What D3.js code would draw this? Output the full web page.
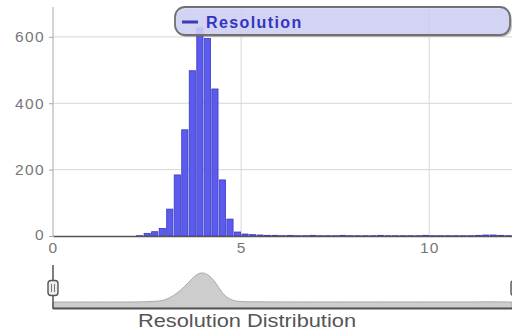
<!DOCTYPE html>
<html>
<head>
<meta charset="utf-8">
<script src="https://cdn.jsdelivr.net/npm/d3@7"></script>
<style>
  html, body { margin: 0; padding: 0; background: #fff; }
  svg { display: block; font-family: "Liberation Sans", Arial, sans-serif; }
</style>
</head>
<body>
<svg id="chart" width="512" height="335"></svg>
<script>
// Histogram bins (start of each 0.2-wide bin) and their counts
const binStarts = [
  0.0, 0.2, 0.4, 0.6, 0.8, 1.0, 1.2, 1.4, 1.6, 1.8,
  2.0, 2.2, 2.4, 2.6, 2.8, 3.0, 3.2, 3.4, 3.6, 3.8,
  4.0, 4.2, 4.4, 4.6, 4.8, 5.0, 5.2, 5.4, 5.6, 5.8,
  6.0, 6.2, 6.4, 6.6, 6.8, 7.0, 7.2, 7.4, 7.6, 7.8,
  8.0, 8.2, 8.4, 8.6, 8.8, 9.0, 9.2, 9.4, 9.6, 9.8,
  10.0, 10.2, 10.4, 10.6, 10.8, 11.0, 11.2, 11.4, 11.6, 11.8,
  12.0
];
const counts = [
  0, 0, 0, 0, 0, 0, 0, 0, 0, 0,
  0, 1, 8, 13, 23, 81, 184, 320, 498, 627,
  595, 443, 169, 51, 12, 6, 4, 3, 2, 2,
  1, 2, 1, 1, 2, 1, 1, 1, 2, 1,
  1, 1, 1, 2, 1, 1, 1, 1, 1, 2,
  1, 1, 1, 1, 1, 1, 2, 3, 3, 2,
  1
];
const binWidth = 0.2;
const yTicks = [0, 200, 400, 600];
const xTicks = [0, 5, 10];
const seriesName = "Resolution";
const title = "Resolution Distribution";

const data = binStarts.map((s, i) => ({ x0: s, x1: s + binWidth, n: counts[i] }));

const svg = d3.select("#chart");

// Main plot scales
const x = d3.scaleLinear().domain([0, 12.2]).range([53, 512]);
const y = d3.scaleLinear().domain([0, 690]).range([236, 7]);

// Grid lines
const grid = svg.append("g");
grid.selectAll("line.h").data(yTicks.filter(d => d > 0)).join("line")
  .attr("x1", x(0)).attr("x2", 512)
  .attr("y1", d => y(d)).attr("y2", d => y(d))
  .attr("stroke", "#d6d6d6").attr("stroke-width", 1);
grid.selectAll("line.v").data(xTicks.filter(d => d > 0)).join("line")
  .attr("x1", d => x(d)).attr("x2", d => x(d))
  .attr("y1", y(690)).attr("y2", y(0))
  .attr("stroke", "#d6d6d6").attr("stroke-width", 1);

// Bars
svg.append("g").selectAll("rect").data(data.filter(d => d.n > 0)).join("rect")
  .attr("x", d => x(d.x0) + 0.8)
  .attr("width", d => x(d.x1) - x(d.x0) - 1.3)
  .attr("y", d => y(d.n))
  .attr("height", d => y(0) - y(d.n))
  .attr("fill", "#5b5bee")
  .attr("stroke", "#3a3ac4")
  .attr("stroke-width", 0.8);

// Y axis
const yAxis = d3.axisLeft(y).tickValues(yTicks).tickSize(4).tickPadding(4).tickFormat(d3.format("d"));
const gy = svg.append("g").attr("transform", `translate(${x(0)},0)`).call(yAxis);
gy.select(".domain").attr("stroke", "#a8a8a8").attr("d", `M0,${y(690)}V${y(0)}`);
gy.selectAll(".tick line").attr("stroke", "#a8a8a8");
gy.selectAll(".tick text").attr("fill", "#777").attr("font-size", 15.5)
  .attr("letter-spacing", 1.4)
  .attr("font-family", "Liberation Sans, Arial, sans-serif");
gy.selectAll(".tick").filter(d => d === 0).select("text").attr("dy", "0.2em");

// X axis
const xAxis = d3.axisBottom(x).tickValues(xTicks).tickSize(0).tickPadding(6);
const gx = svg.append("g").attr("transform", `translate(0,${y(0)})`).call(xAxis);
gx.select(".domain").attr("stroke", "#555").attr("stroke-width", 1.3);
gx.selectAll(".tick text").attr("fill", "#777").attr("font-size", 15.5)
  .attr("letter-spacing", 1.2)
  .attr("font-family", "Liberation Sans, Arial, sans-serif");

// Legend
const legend = svg.append("g");
legend.append("rect")
  .attr("x", 176).attr("y", 9).attr("width", 336).attr("height", 28).attr("rx", 10)
  .attr("fill", "#555").attr("opacity", 0.35);
legend.append("rect")
  .attr("x", 175).attr("y", 7).attr("width", 335).attr("height", 28).attr("rx", 10)
  .attr("fill", "#d6d6fb").attr("fill-opacity", 0.85)
  .attr("stroke", "#707070").attr("stroke-width", 1.8);
legend.append("line")
  .attr("x1", 182).attr("x2", 198).attr("y1", 22).attr("y2", 22)
  .attr("stroke", "#3b3bb5").attr("stroke-width", 3);
legend.append("text")
  .attr("x", 206).attr("y", 27.5)
  .attr("font-size", 16).attr("font-weight", "bold").attr("fill", "#3434c0")
  .attr("letter-spacing", 1.4)
  .text(seriesName);

// Navigator
const nav = svg.append("g");
const ny = d3.scaleLinear().domain([0, 627]).range([302, 272]);
const centers = data.map(d => ({ x: (d.x0 + d.x1) / 2, n: d.n }));
const area = d3.area()
  .x(d => x(d.x))
  .y0(308)
  .y1(d => ny(d.n))
  .curve(d3.curveBasis);
const navData = [{ x: 0, n: 0 }, ...centers, { x: 12.2, n: 0 }];
nav.append("path").datum(navData)
  .attr("d", area)
  .attr("fill", "#cdcdcd")
  .attr("stroke", "#a9a9a9").attr("stroke-width", 1);
nav.append("line")
  .attr("x1", x(0)).attr("x2", 512).attr("y1", 308.5).attr("y2", 308.5)
  .attr("stroke", "#555").attr("stroke-width", 1.8);
nav.append("line")
  .attr("x1", x(0)).attr("x2", x(0)).attr("y1", 265).attr("y2", 309)
  .attr("stroke", "#555").attr("stroke-width", 1.5);

// Navigator handles
function handle(cx) {
  const g = nav.append("g").attr("transform", `translate(${cx},288)`);
  g.append("rect").attr("x", -5).attr("y", -7.5).attr("width", 10).attr("height", 15).attr("rx", 3)
    .attr("fill", "#eeeeee").attr("stroke", "#555").attr("stroke-width", 1.4);
  g.append("line").attr("x1", -1.5).attr("x2", -1.5).attr("y1", -4).attr("y2", 4).attr("stroke", "#777");
  g.append("line").attr("x1", 1.5).attr("x2", 1.5).attr("y1", -4).attr("y2", 4).attr("stroke", "#777");
}
handle(x(0));
handle(x(12.2) + 4);

// Title
svg.append("text")
  .attr("x", 138).attr("y", 327)
  .attr("font-size", 18).attr("fill", "#555")
  .attr("textLength", 218).attr("lengthAdjust", "spacingAndGlyphs")
  .text(title);
</script>
</body>
</html>
